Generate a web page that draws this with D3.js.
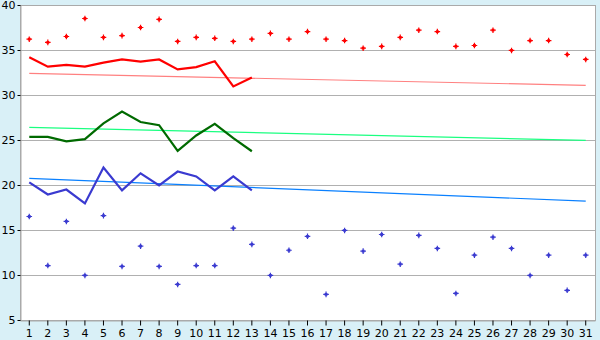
<!DOCTYPE html>
<html>
<head>
<meta charset="utf-8">
<script src="https://cdn.jsdelivr.net/npm/d3@7"></script>
<style>
  body { margin: 0; background: #d9f0f7; }
  svg { display: block; }
  .tick text { font-family: "DejaVu Sans", Verdana, sans-serif; font-size: 11px; fill: #000; }
</style>
</head>
<body>
<svg id="chart" width="600" height="340"></svg>
<script>
//#region DATA ////////////////////////////////////////////////////////////////

const days = [1, 2, 3, 4, 5, 6, 7, 8, 9, 10, 11, 12, 13, 14, 15, 16, 17, 18,
              19, 20, 21, 22, 23, 24, 25, 26, 27, 28, 29, 30, 31];
const yTicks = [5, 10, 15, 20, 25, 30, 35, 40];

// scattered points
const highPoints = [36.2, 35.85, 36.5, 38.5, 36.4, 36.6, 37.5, 38.4, 35.95, 36.4,
                    36.3, 35.95, 36.2, 36.85, 36.2, 37.05, 36.2, 36.05, 35.2, 35.4,
                    36.4, 37.2, 37.05, 35.4, 35.5, 37.2, 34.95, 36.05, 36.05, 34.5, 33.95];
const lowPoints = [16.5, 11.05, 15.95, 9.95, 16.6, 10.95, 13.2, 10.95, 8.95, 11.05,
                   11.05, 15.2, 13.4, 9.95, 12.75, 14.3, 7.85, 14.95, 12.65, 14.5,
                   11.2, 14.4, 12.95, 7.95, 12.2, 14.2, 12.95, 9.95, 12.2, 8.3, 12.2];

// lines for the first 13 days
const redLine = [34.2, 33.15, 33.35, 33.15, 33.6, 33.95, 33.7, 33.95, 32.85, 33.1,
                 33.75, 30.95, 31.95];
const greenLine = [25.35, 25.35, 24.85, 25.1, 26.85, 28.15, 27.0, 26.65, 23.8, 25.5,
                   26.8, 25.2, 23.75];
const blueLine = [20.3, 18.95, 19.5, 17.95, 21.95, 19.4, 21.3, 19.95, 21.5, 20.95,
                  19.4, 20.95, 19.4];

// trend lines: value at day 1 and day 31
const redTrend = [32.4, 31.07];
const greenTrend = [26.4, 24.96];
const blueTrend = [20.74, 18.2];

//#endregion

//#region DRAWING /////////////////////////////////////////////////////////////

const LEFT = 20, RIGHT = 595, TOP = 5, BOTTOM = 320;

const svg = d3.select("#chart");

let x = d3.scaleBand().domain(days).range([ LEFT, RIGHT ]);
let xc = d => x(d) + x.bandwidth() / 2;
let y = d3.scaleLinear().domain([ 5, 40 ]).range([ BOTTOM, TOP ]);

// plot background
svg.append("rect")
    .attr("x", LEFT).attr("y", TOP)
    .attr("width", RIGHT - LEFT).attr("height", BOTTOM - TOP)
    .attr("fill", "#fff");

// horizontal grid lines
svg.append("g").selectAll("line").data(yTicks.slice(1, -1)).enter().append("line")
    .attr("x1", LEFT).attr("x2", RIGHT)
    .attr("y1", d => y(d)).attr("y2", d => y(d))
    .attr("stroke", "#b0b0b0").attr("shape-rendering", "crispEdges");

// border
svg.append("rect")
    .attr("x", LEFT + 0.5).attr("y", TOP + 0.5)
    .attr("width", RIGHT - LEFT).attr("height", BOTTOM - TOP)
    .attr("fill", "none").attr("stroke", "#aaa");

// axes
let xAxis = svg.append("g")
    .attr("transform", "translate(0," + (BOTTOM + 0.5) + ")")
    .call(d3.axisBottom(x).tickSize(5).tickPadding(4).tickSizeOuter(0));
xAxis.select(".domain").attr("stroke", "#aaa");
xAxis.selectAll(".tick line").attr("stroke", "#000");

let yAxis = svg.append("g")
    .attr("transform", "translate(" + (LEFT + 0.5) + ",0)")
    .call(d3.axisLeft(y).tickValues(yTicks).tickSize(3).tickPadding(2).tickSizeOuter(0));
yAxis.select(".domain").attr("stroke", "#aaa");
yAxis.selectAll(".tick line").attr("stroke", "#000");

// trend lines
function drawTrend(vals, color)
{
  svg.append("line")
      .attr("x1", xc(days[0])).attr("x2", xc(days[days.length - 1]))
      .attr("y1", y(vals[0])).attr("y2", y(vals[1]))
      .attr("stroke", color).attr("stroke-width", 1.2);
}
drawTrend(redTrend, "#ff8080");
drawTrend(greenTrend, "#1aff80");
drawTrend(blueTrend, "#0a80ff");

// lines
function drawLine(vals, color)
{
  let gen = d3.line().x((_d, i) => xc(days[i])).y(d => y(d));
  svg.append("path")
      .attr("d", gen(vals))
      .attr("fill", "none").attr("stroke", color).attr("stroke-width", 2.2);
}
drawLine(redLine, "#ff0000");
drawLine(greenLine, "#006a00");
drawLine(blueLine, "#3a3ad0");

// scattered markers: plus with a thick centre
const MARK = "M-0.6,-2.8H0.6V-1.4H1.4V-0.6H2.8V0.6H1.4V1.4H0.6V2.8H-0.6V1.4H-1.4V0.6" +
             "H-2.8V-0.6H-1.4V-1.4H-0.6Z";
function drawPoints(vals, color)
{
  svg.append("g").selectAll("path").data(vals).enter().append("path")
      .attr("d", MARK)
      .attr("transform", (d, i) => "translate(" + xc(days[i]) + "," + y(d) + ")")
      .attr("fill", color);
}
drawPoints(highPoints, "#ff0000");
drawPoints(lowPoints, "#3a3ad0");

//#endregion
</script>
</body>
</html>
